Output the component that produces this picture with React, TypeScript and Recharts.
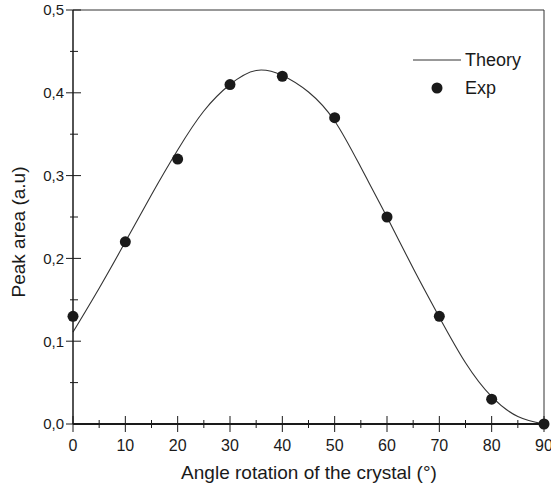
import React from 'react'
import { ComposedChart, Line, Scatter, XAxis, YAxis, ReferenceLine, Legend } from 'recharts'

// theory curve, read every 5 degrees
const theoryAngles = [0, 5, 10, 15, 20, 25, 30, 35, 40, 45, 50, 55, 60, 65, 70, 75, 80, 85, 90]
const theoryValues = [0.111, 0.164, 0.22, 0.277, 0.331, 0.378, 0.41, 0.427, 0.421, 0.401, 0.366, 0.31, 0.25, 0.188, 0.129, 0.074, 0.033, 0.009, 0]

// measured points
const expAngles = [0, 10, 20, 30, 40, 50, 60, 70, 80, 90]
const expValues = [0.13, 0.22, 0.32, 0.41, 0.42, 0.37, 0.25, 0.13, 0.03, 0]

const xTicks = [0, 5, 10, 15, 20, 25, 30, 35, 40, 45, 50, 55, 60, 65, 70, 75, 80, 85, 90]
const yTicks = [0, 0.05, 0.1, 0.15, 0.2, 0.25, 0.3, 0.35, 0.4, 0.45, 0.5]

const theoryData = theoryAngles.map((a, i) => ({ angle: a, theory: theoryValues[i] }))
const expData = expAngles.map((a, i) => ({ angle: a, exp: expValues[i] }))

const FONT = '"Liberation Sans", Arial, Helvetica, sans-serif'
const INK = '#1a1a1a'

const XTick = (props: any) => {
  const { x, y, payload } = props
  const major = payload.value % 10 === 0
  const h = major ? 8 : 4
  return (
    <g>
      <line x1={x} x2={x} y1={y - h} y2={y + h} stroke={INK} strokeWidth={1} />
      {major && (
        <text x={x} y={y + 27} textAnchor="middle" fontSize={16} fontFamily={FONT} fill={INK}>
          {payload.value}
        </text>
      )}
    </g>
  )
}

const YTick = (props: any) => {
  const { x, y, payload } = props
  const major = Math.round(payload.value * 100) % 10 === 0
  return (
    <g>
      <line x1={major ? x - 7 : x - 3} x2={major ? x + 8 : x + 5} y1={y} y2={y} stroke={INK} strokeWidth={1} />
      {major && (
        <text x={x - 9} y={y} dy="0.36em" textAnchor="end" fontSize={15} fontFamily={FONT} fill={INK}>
          {payload.value.toFixed(1).replace('.', ',')}
        </text>
      )}
    </g>
  )
}

const renderLegend = () => (
  <div style={{ fontFamily: FONT, fontSize: 18, color: INK, lineHeight: '28px' }}>
    <div style={{ display: 'flex', alignItems: 'center' }}>
      <svg width={52} height={28}>
        <line x1={0} x2={48} y1={14} y2={14} stroke="#333" strokeWidth={1} />
      </svg>
      <span>Theory</span>
    </div>
    <div style={{ display: 'flex', alignItems: 'center' }}>
      <svg width={52} height={28}>
        <circle cx={24} cy={14} r={5.5} fill={INK} />
      </svg>
      <span>Exp</span>
    </div>
  </div>
)

export default function App() {
  return (
    <div style={{ position: 'absolute', left: 0, top: 0, background: '#fff' }}>
      <ComposedChart width={551} height={488} margin={{ top: 10, right: 7, left: 0, bottom: 0 }}>
        <XAxis
          dataKey="angle"
          type="number"
          domain={[0, 90]}
          ticks={xTicks}
          interval={0}
          height={64}
          tickSize={0}
          tickMargin={0}
          tickLine={false}
          axisLine={{ stroke: INK, strokeWidth: 2 }}
          tick={<XTick />}
          label={{
            content: () => (
              <text x={309} y={479} textAnchor="middle" fontSize={19} fontFamily={FONT} fill={INK}>
                Angle rotation of the crystal (°)
              </text>
            )
          }}
        />
        <YAxis
          type="number"
          domain={[0, 0.5]}
          ticks={yTicks}
          interval={0}
          width={73}
          tickSize={0}
          tickMargin={0}
          tickLine={false}
          axisLine={{ stroke: INK, strokeWidth: 1.5 }}
          tick={<YTick />}
          label={{
            content: () => (
              <text
                x={18}
                y={232}
                transform="rotate(-90, 18, 232)"
                textAnchor="middle"
                dy="0.36em"
                fontSize={19}
                fontFamily={FONT}
                fill={INK}
              >
                Peak area (a.u)
              </text>
            )
          }}
        />
        <ReferenceLine y={0.5} stroke="#333" strokeWidth={1} />
        <ReferenceLine x={90} stroke="#333" strokeWidth={1} />
        <Legend
          content={renderLegend}
          layout="horizontal"
          verticalAlign="middle"
          align="center"
          wrapperStyle={{ position: 'absolute', top: 46, left: 413, width: 130 }}
        />
        <Line
          data={theoryData}
          dataKey="theory"
          type="natural"
          stroke="#333"
          strokeWidth={1.1}
          dot={false}
          activeDot={false}
          isAnimationActive={false}
        />
        <Scatter
          data={expData}
          dataKey="exp"
          fill={INK}
          shape={(p: any) => <circle cx={p.cx} cy={p.cy} r={5.5} fill={INK} />}
          isAnimationActive={false}
        />
      </ComposedChart>
    </div>
  )
}
